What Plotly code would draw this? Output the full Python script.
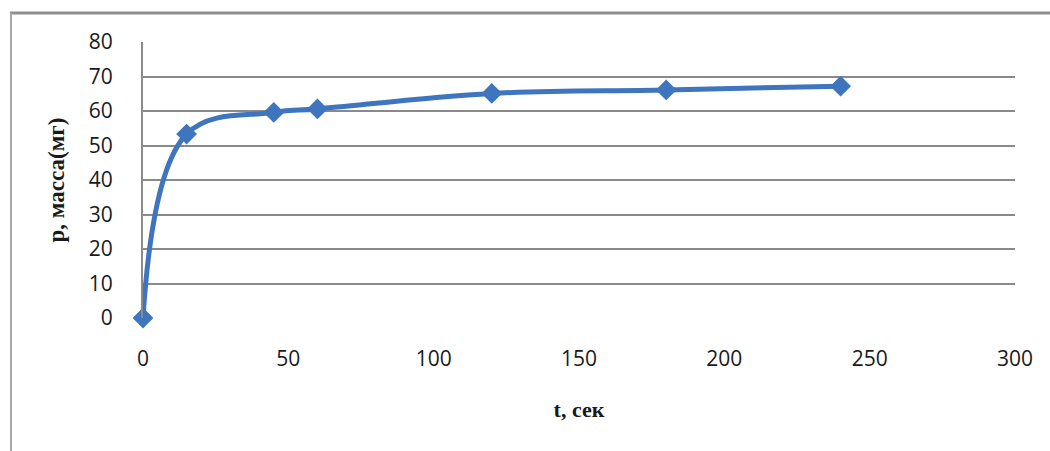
import plotly.graph_objects as go

# Mass gain over time
t_sec = [0, 15, 45, 60, 120, 180, 240]
mass_mg = [0, 53.3, 59.6, 60.6, 65.1, 66.1, 67.2]
x_ticks = [0, 50, 100, 150, 200, 250, 300]
y_ticks = [0, 10, 20, 30, 40, 50, 60, 70, 80]

W, H = 1050, 451
L, R, T, B = 143, 35, 42, 133

BLUE = "#3F74BE"
GRID = "#8A8A8A"

fig = go.Figure()
fig.add_trace(go.Scatter(
    x=t_sec, y=mass_mg,
    mode="lines+markers",
    line=dict(color=BLUE, width=5, shape="spline", smoothing=1.1),
    marker=dict(symbol="diamond", size=16, color=BLUE),
    cliponaxis=False,
    showlegend=False,
))


def px_to_paper_x(px):
    return (px - L) / (W - L - R)


def px_to_paper_y(py):
    return (H - B - py) / (H - T - B)


# Outer chart frame (top and left edges)
fig.add_shape(type="line", xref="paper", yref="paper",
              x0=px_to_paper_x(10), x1=px_to_paper_x(1050),
              y0=px_to_paper_y(13), y1=px_to_paper_y(13),
              line=dict(color="#8E8E8E", width=3))
fig.add_shape(type="line", xref="paper", yref="paper",
              x0=px_to_paper_x(11), x1=px_to_paper_x(11),
              y0=px_to_paper_y(13), y1=px_to_paper_y(451),
              line=dict(color="#A8A8A8", width=2))

fig.update_layout(
    width=W, height=H,
    margin=dict(l=L, r=R, t=T, b=B),
    paper_bgcolor="white",
    plot_bgcolor="white",
    font=dict(family="Open Sans", color="#1a1a1a"),
    xaxis=dict(
        range=[0, 300], tickvals=x_ticks, showgrid=False, zeroline=False,
        showline=False, tickfont=dict(size=21, color="#1a1a1a"),
        ticks="", ticklabelstandoff=26,
        title=dict(text="<b>t, сек</b>", standoff=30,
                   font=dict(family="Liberation Serif", size=22)),
    ),
    yaxis=dict(
        range=[0, 80], tickvals=y_ticks, showgrid=True, gridcolor=GRID,
        gridwidth=2, zeroline=False, showline=True, linecolor=GRID, linewidth=2,
        tickfont=dict(size=21, color="#1a1a1a"), ticks="", ticklabelstandoff=24,
        title=dict(text="<b>p, масса(мг)</b>", standoff=18,
                   font=dict(family="Liberation Serif", size=23)),
    ),
)

fig.write_html("out.html")
